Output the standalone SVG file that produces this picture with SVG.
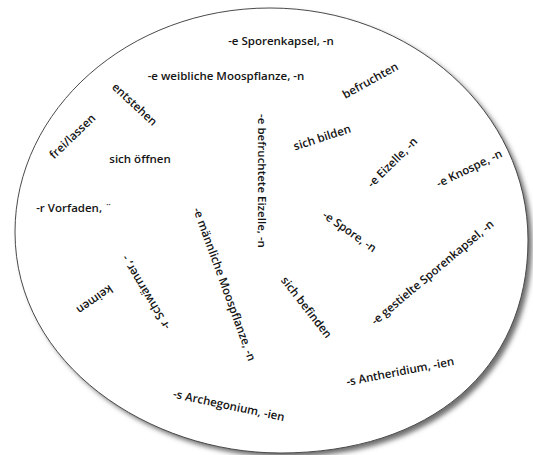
<svg xmlns="http://www.w3.org/2000/svg" width="533" height="455" viewBox="0 0 533 455">
  <defs>
    <filter id="shadow" x="-10%" y="-10%" width="120%" height="120%">
      <feGaussianBlur stdDeviation="2.5"/>
    </filter>
    <path id="disc" d="M270,8 C412,8 528,112 528,240 C528,370 430,453 280,453 C150,453 15,365 15,232 C15,110 128,8 270,8 Z"/>
  </defs>
  <style>
    text { font-family: "Open Sans", "Noto Sans", "DejaVu Sans", sans-serif; font-size: 11.5px; font-weight: 600; fill: #141414; text-anchor: middle; dominant-baseline: central; }
  </style>
  <rect x="0" y="0" width="533" height="455" fill="#ffffff"/>
  <g id="disc-shape">
    <use href="#disc" transform="translate(4,4)" fill="#6e6e6e" filter="url(#shadow)"/>
    <use href="#disc" fill="#ffffff" stroke="#4a4a4a" stroke-width="1"/>
  </g>
  <g id="labels">
    <text id="t1" transform="translate(281,40)">-e Sporenkapsel, -n</text>
    <text id="t2" transform="translate(226,75)">-e weibliche Moospflanze, -n</text>
    <text id="t3" transform="translate(370,80) rotate(-29)">befruchten</text>
    <text id="t4" transform="translate(135,104) rotate(43)">entstehen</text>
    <text id="t5" transform="translate(72,136) rotate(-44)">frei/lassen</text>
    <text id="t6" transform="translate(140,158)">sich öffnen</text>
    <text id="t7" transform="translate(322,137) rotate(-18)">sich bilden</text>
    <text id="t8" transform="translate(262,181) rotate(90)">-e befruchtete Eizelle, -n</text>
    <text id="t9" transform="translate(392,162) rotate(-45)">-e Eizelle, -n</text>
    <text id="t10" transform="translate(469,168) rotate(-26)">-e Knospe, -n</text>
    <text id="t11" transform="translate(74,207)">-r Vorfaden, ¨</text>
    <text id="t12" transform="translate(350,231) rotate(35)">-e Spore, -n</text>
    <text id="t13" transform="translate(432,272) rotate(-40)">-e gestielte Sporenkapsel, -n</text>
    <text id="t14" transform="translate(225,284) rotate(70)">-e männliche Moospflanze, -n</text>
    <text id="t15" transform="translate(145,293) rotate(-121)">-r Schwärmer, -</text>
    <text id="t16" transform="translate(95,300) rotate(145)">keimen</text>
    <text id="t17" transform="translate(307,307) rotate(52)">sich befinden</text>
    <text id="t18" transform="translate(400,371) rotate(-11)">-s Antheridium, -ien</text>
    <text id="t19" transform="translate(229,405) rotate(12)">-s Archegonium, -ien</text>
  </g>
</svg>
